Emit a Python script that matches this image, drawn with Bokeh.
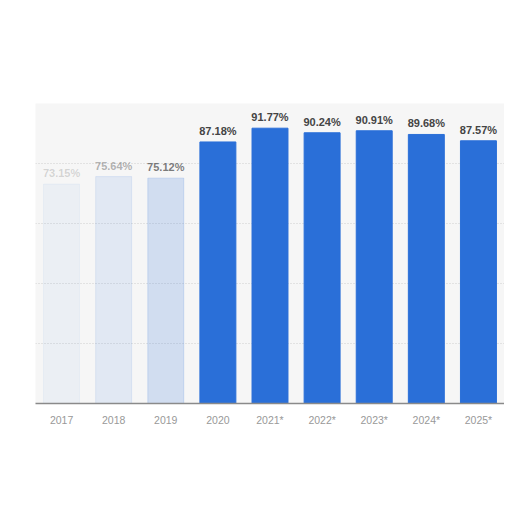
from bokeh.plotting import figure
from bokeh.models import ColumnDataSource, FixedTicker, Range1d
from bokeh.core.properties import value
from bokeh.embed import file_html
from bokeh.resources import INLINE

years = ["2017", "2018", "2019", "2020", "2021*", "2022*", "2023*", "2024*", "2025*"]
shares = [73.15, 75.64, 75.12, 87.18, 91.77, 90.24, 90.91, 89.68, 87.57]
bar_alpha = [0.05, 0.1, 0.18, 1, 1, 1, 1, 1, 1]
label_alpha = [0.2, 0.4, 0.7, 1, 1, 1, 1, 1, 1]
tick_values = [0, 20, 40, 60, 80, 100]

labels = [f"{v:.2f}%" for v in shares]
src = ColumnDataSource(dict(year=years, share=shares, label=labels,
                            balpha=bar_alpha, lalpha=label_alpha))

p = figure(x_range=years, y_range=Range1d(0, 100), width=504, height=500,
           output_backend="svg", toolbar_location=None,
           min_border_left=35, min_border_right=0, min_border_top=103,
           min_border_bottom=97)
p.background_fill_color = "#f6f6f6"
p.border_fill_color = "white"
p.outline_line_color = None

p.vbar(x="year", top="share", width=0.69, source=src, fill_color="#2a6fd8",
       fill_alpha="balpha", line_color="#2a6fd8", line_alpha="balpha")
p.text(x="year", y="share", text="label", source=src, text_align="center",
       text_baseline="bottom", y_offset=-5, text_font=value("Liberation Sans"),
       text_font_style="bold", text_font_size="11px", text_color="#444444",
       text_alpha="lalpha")

p.yaxis.visible = False
p.ygrid.ticker = FixedTicker(ticks=tick_values)
p.ygrid.grid_line_color = "#cfcfcf"
p.ygrid.grid_line_dash = "1 2"
p.xgrid.grid_line_color = None

p.xaxis.axis_line_color = "#8a8a8a"
p.xaxis.axis_line_width = 1.5
p.xaxis.major_tick_line_color = None
p.xaxis.minor_tick_line_color = None
p.xaxis.major_label_standoff = 4
p.xaxis.major_label_text_font = "Liberation Sans"
p.xaxis.major_label_text_font_size = "10.5px"
p.xaxis.major_label_text_color = "#999999"
p.x_range.range_padding = 0

open("out.html", "w").write(file_html(p, INLINE))
